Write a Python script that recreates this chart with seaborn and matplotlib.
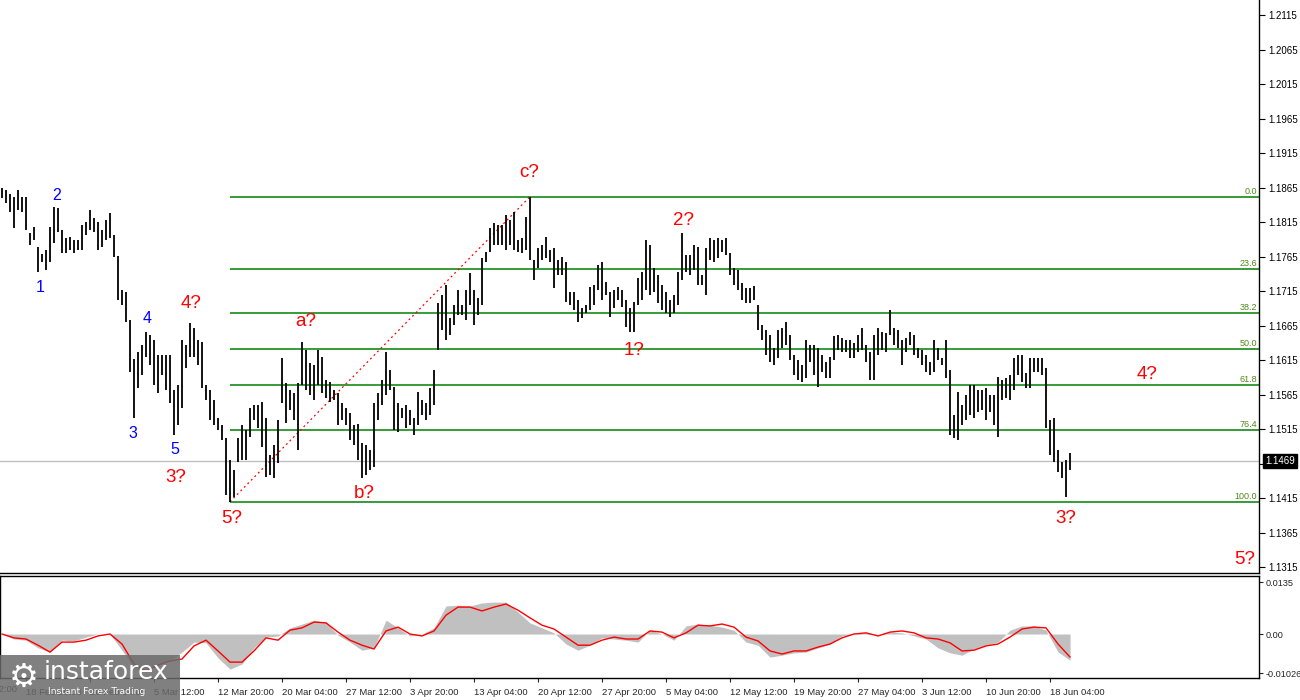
import numpy as np
import matplotlib
matplotlib.use('Agg')
import matplotlib.pyplot as plt
import seaborn as sns
from matplotlib.patches import Rectangle

sns.set_style('white')
plt.rcParams['font.family'] = ['Liberation Sans', 'DejaVu Sans']

# EURUSD H4 bars (one bar per ~2 source bars)
highs = [
    1.1865, 1.1862, 1.1856, 1.1852, 1.1862, 1.1852, 1.1852, 1.1799, 1.1808, 1.1779,
    1.1769, 1.1775, 1.1808, 1.1837, 1.1836, 1.1804, 1.1792, 1.1793, 1.1789, 1.1789,
    1.1811, 1.1815, 1.1833, 1.1821, 1.1815, 1.1804, 1.1818, 1.1828, 1.1796, 1.1766,
    1.1717, 1.1714, 1.1673, 1.1617, 1.1627, 1.1637, 1.1656, 1.1652, 1.1644, 1.1623,
    1.1623, 1.1623, 1.1623, 1.1572, 1.1579, 1.1644, 1.1637, 1.1669, 1.1662, 1.1644,
    1.1641, 1.1579, 1.1572, 1.1557, 1.1531, 1.1521, 1.1502, 1.1470, 1.1456, 1.1502,
    1.1521, 1.1514, 1.1546, 1.1550, 1.1550, 1.1554, 1.1531, 1.1478, 1.1492, 1.1528,
    1.1618, 1.1582, 1.1572, 1.1568, 1.1582, 1.1641, 1.1630, 1.1611, 1.1608, 1.1630,
    1.1620, 1.1586, 1.1583, 1.1572, 1.1568, 1.1553, 1.1546, 1.1538, 1.1521, 1.1523,
    1.1495, 1.1492, 1.1485, 1.1553, 1.1568, 1.1586, 1.1627, 1.1601, 1.1576, 1.1553,
    1.1546, 1.1550, 1.1543, 1.1531, 1.1569, 1.1557, 1.1553, 1.1575, 1.1601, 1.1698,
    1.1710, 1.1724, 1.1676, 1.1695, 1.1717, 1.1695, 1.1717, 1.1741, 1.1717, 1.1705,
    1.1763, 1.1772, 1.1807, 1.1814, 1.1811, 1.1811, 1.1825, 1.1818, 1.1830, 1.1789,
    1.1792, 1.1823, 1.1852, 1.1760, 1.1778, 1.1782, 1.1793, 1.1775, 1.1778, 1.1760,
    1.1765, 1.1757, 1.1714, 1.1714, 1.1702, 1.1691, 1.1695, 1.1721, 1.1724, 1.1753,
    1.1757, 1.1728, 1.1714, 1.1717, 1.1721, 1.1717, 1.1702, 1.1691, 1.1699, 1.1734,
    1.1743, 1.1789, 1.1782, 1.1749, 1.1739, 1.1724, 1.1714, 1.1702, 1.1710, 1.1743,
    1.1799, 1.1768, 1.1768, 1.1782, 1.1779, 1.1739, 1.1778, 1.1792, 1.1789, 1.1792,
    1.1789, 1.1792, 1.1770, 1.1749, 1.1746, 1.1727, 1.1720, 1.1720, 1.1723, 1.1695,
    1.1666, 1.1659, 1.1652, 1.1633, 1.1659, 1.1662, 1.1670, 1.1652, 1.1623, 1.1615,
    1.1608, 1.1644, 1.1637, 1.1637, 1.1633, 1.1623, 1.1612, 1.1620, 1.1650, 1.1652,
    1.1647, 1.1644, 1.1644, 1.1640, 1.1652, 1.1662, 1.1637, 1.1627, 1.1652, 1.1662,
    1.1656, 1.1655, 1.1688, 1.1662, 1.1659, 1.1644, 1.1647, 1.1656, 1.1652, 1.1633,
    1.1630, 1.1623, 1.1612, 1.1644, 1.1633, 1.1618, 1.1644, 1.1601, 1.1536, 1.1569,
    1.1550, 1.1565, 1.1579, 1.1579, 1.1572, 1.1572, 1.1575, 1.1565, 1.1565, 1.1591,
    1.1586, 1.1589, 1.1594, 1.1618, 1.1623, 1.1623, 1.1597, 1.1618, 1.1618, 1.1618,
    1.1618, 1.1604, 1.1528, 1.1531, 1.1485, 1.1467, 1.1470, 1.1481,
]
lows = [
    1.1850, 1.1843, 1.1830, 1.1807, 1.1833, 1.1830, 1.1804, 1.1782, 1.1789, 1.1743,
    1.1757, 1.1746, 1.1757, 1.1785, 1.1801, 1.1770, 1.1770, 1.1775, 1.1770, 1.1775,
    1.1775, 1.1796, 1.1804, 1.1801, 1.1775, 1.1779, 1.1789, 1.1792, 1.1765, 1.1702,
    1.1695, 1.1670, 1.1598, 1.1531, 1.1575, 1.1594, 1.1620, 1.1608, 1.1579, 1.1568,
    1.1594, 1.1572, 1.1553, 1.1507, 1.1521, 1.1546, 1.1604, 1.1620, 1.1620, 1.1608,
    1.1575, 1.1557, 1.1528, 1.1521, 1.1514, 1.1499, 1.1420, 1.1410, 1.1417, 1.1467,
    1.1470, 1.1470, 1.1504, 1.1528, 1.1517, 1.1489, 1.1446, 1.1449, 1.1444, 1.1466,
    1.1553, 1.1524, 1.1543, 1.1528, 1.1485, 1.1579, 1.1572, 1.1565, 1.1557, 1.1579,
    1.1568, 1.1560, 1.1554, 1.1557, 1.1521, 1.1528, 1.1521, 1.1499, 1.1492, 1.1470,
    1.1444, 1.1449, 1.1456, 1.1460, 1.1528, 1.1550, 1.1565, 1.1572, 1.1514, 1.1511,
    1.1531, 1.1517, 1.1521, 1.1507, 1.1521, 1.1536, 1.1528, 1.1536, 1.1550, 1.1630,
    1.1659, 1.1644, 1.1652, 1.1666, 1.1681, 1.1681, 1.1673, 1.1695, 1.1666, 1.1681,
    1.1695, 1.1757, 1.1772, 1.1782, 1.1782, 1.1782, 1.1775, 1.1782, 1.1775, 1.1772,
    1.1770, 1.1775, 1.1760, 1.1731, 1.1749, 1.1760, 1.1763, 1.1757, 1.1720, 1.1739,
    1.1739, 1.1699, 1.1695, 1.1688, 1.1670, 1.1676, 1.1683, 1.1688, 1.1695, 1.1717,
    1.1702, 1.1710, 1.1678, 1.1691, 1.1702, 1.1692, 1.1663, 1.1656, 1.1656, 1.1695,
    1.1702, 1.1717, 1.1710, 1.1714, 1.1698, 1.1688, 1.1683, 1.1678, 1.1683, 1.1695,
    1.1731, 1.1743, 1.1739, 1.1746, 1.1724, 1.1724, 1.1710, 1.1760, 1.1757, 1.1763,
    1.1772, 1.1768, 1.1739, 1.1724, 1.1717, 1.1702, 1.1698, 1.1698, 1.1702, 1.1659,
    1.1644, 1.1623, 1.1612, 1.1608, 1.1618, 1.1633, 1.1637, 1.1615, 1.1594, 1.1586,
    1.1583, 1.1589, 1.1612, 1.1594, 1.1576, 1.1598, 1.1589, 1.1589, 1.1615, 1.1630,
    1.1627, 1.1627, 1.1618, 1.1618, 1.1627, 1.1630, 1.1612, 1.1586, 1.1586, 1.1623,
    1.1630, 1.1627, 1.1652, 1.1637, 1.1633, 1.1608, 1.1627, 1.1637, 1.1623, 1.1618,
    1.1608, 1.1598, 1.1594, 1.1598, 1.1615, 1.1608, 1.1589, 1.1507, 1.1502, 1.1499,
    1.1521, 1.1528, 1.1536, 1.1531, 1.1540, 1.1543, 1.1528, 1.1540, 1.1521, 1.1504,
    1.1557, 1.1560, 1.1557, 1.1572, 1.1594, 1.1583, 1.1575, 1.1575, 1.1598, 1.1598,
    1.1594, 1.1517, 1.1478, 1.1467, 1.1453, 1.1444, 1.1417, 1.1456,
]
last_close = 1.1469

# oscillator, one sample every 3 bars
osc_step = 3
osc_hist = [
    0.0, -0.0013, -0.0016, -0.0036, -0.0047, -0.0016, -0.0018, -0.0008, 0.0, 0.0,
    -0.0042, -0.0088, -0.0099, -0.0078, -0.0068, -0.0047, -0.0021, -0.0023, -0.0062, -0.0091,
    -0.0078, -0.0036, -0.0008, -0.0005, 0.0016, 0.0026, 0.0036, 0.0031, -0.0003, -0.0021,
    -0.0042, -0.0036, 0.0036, 0.0016, -0.0005, 0.0, 0.0016, 0.0073, 0.0075, 0.0073,
    0.0081, 0.0083, 0.0083, 0.0057, 0.0029, 0.0016, 0.0003, -0.0026, -0.0042, -0.0029,
    -0.0010, -0.0013, -0.0016, -0.0021, 0.0010, 0.0, -0.0016, 0.0021, 0.0026, 0.0023,
    0.0018, 0.0010, -0.0021, -0.0029, -0.0060, -0.0055, -0.0049, -0.0047, -0.0036, -0.0026,
    -0.0005, 0.0, 0.0003, 0.0, 0.0005, 0.0003, -0.0005, -0.0013, -0.0036, -0.0049,
    -0.0055, -0.0039, -0.0029, -0.0021, 0.0010, 0.0021, 0.0021, 0.0010, -0.0047, -0.0068,
]
osc_signal = [
    0.0, -0.0010, -0.0013, -0.0029, -0.0047, -0.0021, -0.0021, -0.0016, -0.0005, 0.0,
    -0.0026, -0.0078, -0.0096, -0.0081, -0.0070, -0.0065, -0.0031, -0.0016, -0.0044, -0.0073,
    -0.0073, -0.0044, -0.0010, -0.0016, 0.0010, 0.0016, 0.0031, 0.0029, 0.0005, -0.0016,
    -0.0029, -0.0039, 0.0008, 0.0018, 0.0, -0.0005, 0.0008, 0.0049, 0.0070, 0.0070,
    0.0060, 0.0070, 0.0078, 0.0062, 0.0042, 0.0023, 0.0013, -0.0008, -0.0029, -0.0029,
    -0.0016, -0.0008, -0.0013, -0.0013, 0.0008, 0.0005, -0.0010, 0.0003, 0.0023, 0.0021,
    0.0026, 0.0018, -0.0008, -0.0018, -0.0044, -0.0052, -0.0044, -0.0044, -0.0034, -0.0026,
    -0.0010, 0.0, 0.0003, -0.0005, 0.0005, 0.0008, 0.0003, -0.0010, -0.0013, -0.0023,
    -0.0044, -0.0042, -0.0031, -0.0026, -0.0008, 0.0013, 0.0018, 0.0016, -0.0026, -0.0060,
]

date_labels = [
    '11 Feb 12:00', '18 Feb 20:00', '26 Feb 04:00', '5 Mar 12:00', '12 Mar 20:00',
    '20 Mar 04:00', '27 Mar 12:00', '3 Apr 20:00', '13 Apr 04:00', '20 Apr 12:00',
    '27 Apr 20:00', '5 May 04:00', '12 May 12:00', '19 May 20:00', '27 May 04:00',
    '3 Jun 12:00', '10 Jun 20:00', '18 Jun 04:00',
]
date_first_bar = -10
date_every = 16

price_ticks = [1.1315, 1.1365, 1.1415, 1.1465, 1.1515, 1.1565, 1.1615, 1.1665, 1.1715,
               1.1765, 1.1815, 1.1865, 1.1915, 1.1965, 1.2015, 1.2065, 1.2115]
osc_ticks = [0.0135, 0.0, -0.01026]
osc_tick_labels = ['0.0135', '0.00', '-0.01026']

fib_levels = [0.0, 23.6, 38.2, 50.0, 61.8, 76.4, 100.0]
fib_low_bar, fib_high_bar = 57, 132

# wave marks: text, bar, anchor ('high'/'low'), dx, dy (pixels), colour
wave_marks = [
    ('1', 9, 'low', 2, -16, 'blue'), ('2', 13, 'high', 3, 12, 'blue'),
    ('3', 33, 'low', -1, -15, 'blue'), ('4', 36, 'high', 1, 13, 'blue'),
    ('5', 43, 'low', 1, -15, 'blue'),
    ('4?', 47, 'high', 1, 20, 'red'), ('3?', 43, 'low', 2, -43, 'red'),
    ('5?', 57, 'low', 2, -17, 'red'), ('a?', 75, 'high', 4, 21, 'red'),
    ('b?', 90, 'low', 2, -15, 'red'), ('c?', 132, 'high', -1, 24, 'red'),
    ('1?', 158, 'low', 0, -19, 'red'), ('2?', 170, 'high', 1, 13, 'red'),
    ('3?', 266, 'low', 0, -22, 'red'),
]

n = len(highs)
idx = np.arange(n)
xmax = 314.25

fig = plt.figure(figsize=(13, 7), dpi=100)
ax = fig.add_axes([0, 0.1821, 0.9685, 0.8179])
osc = fig.add_axes([0, 0.0314, 0.9685, 0.1457])

# ---- price panel
ax.axhline(last_close, color='#c0c0c0', lw=1, zorder=1)
fib_hi, fib_lo = highs[fib_high_bar], lows[fib_low_bar]
for lvl in fib_levels:
    y = fib_hi - (fib_hi - fib_lo) * lvl / 100
    ax.hlines(y, fib_low_bar, xmax, color='#008000', lw=1.1, zorder=2)
    ax.annotate(f'{lvl:.1f}', xy=(1, y), xycoords=('axes fraction', 'data'),
                xytext=(-2, 1), textcoords='offset pixels', ha='right', va='bottom',
                fontsize=6.5, color='#4f8a1a')
ax.plot([fib_low_bar, fib_high_bar], [fib_lo, fib_hi], color='red', lw=0.9,
        ls=(0, (1.5, 2.5)), zorder=3)
ax.vlines(idx, lows, highs, color='black', lw=1.3, zorder=4)

for txt, b, side, dx, dy, col in wave_marks:
    yv = highs[b] if side == 'high' else lows[b]
    ax.annotate(txt, xy=(b, yv), xytext=(dx, dy), textcoords='offset pixels',
                ha='center', va='center', color=col,
                fontsize=11.5 if col == 'blue' else 13.5)
ax.annotate('4?', xy=(n - 1, highs[-1]), xytext=(77, 78), textcoords='offset pixels',
            ha='center', va='center', color='red', fontsize=13.5)
ax.annotate('5?', xy=(1, fib_lo), xycoords=('axes fraction', 'data'), xytext=(-14, -58),
            textcoords='offset pixels', ha='center', va='center', color='red', fontsize=13.5)

ax.set_xlim(-0.5, xmax)
ax.set_ylim(1.13075, 1.2137)
ax.set_xticks([])
ax.yaxis.tick_right()
ax.set_yticks(price_ticks)
# the tick under the current-price box is hidden by it
ax.set_yticklabels(['' if abs(t - last_close) < 0.001 else f'{t:.4f}' for t in price_ticks])
ax.tick_params(axis='y', direction='out', length=4, width=0.8, labelsize=7, pad=3,
               right=True, colors='black')
for side in ['top', 'left']:
    ax.spines[side].set_visible(False)
for side in ['right', 'bottom']:
    ax.spines[side].set_color('black')
    ax.spines[side].set_linewidth(1)
ax.annotate(f'{last_close:.4f}', xy=(1, last_close), xycoords=('axes fraction', 'data'),
            xytext=(6, 0), textcoords='offset pixels', ha='left', va='center',
            fontsize=7, color='white',
            bbox=dict(boxstyle='square,pad=0.2', fc='black', ec='black'))

# ---- oscillator panel
osc_x = np.arange(len(osc_hist)) * osc_step
osc.fill_between(osc_x, 0, osc_hist, color='#c0c0c0', lw=0)
sns.lineplot(x=osc_x, y=osc_signal, ax=osc, color='red', lw=1)
osc.set_xlim(-0.5, xmax)
osc.set_ylim(-0.01144, 0.01508)
osc.yaxis.tick_right()
osc.set_yticks(osc_ticks)
osc.set_yticklabels(osc_tick_labels)
tick_bars = [date_first_bar + date_every * k for k in range(len(date_labels))]
osc.set_xticks(tick_bars[1:])
osc.set_xticklabels(date_labels[1:], ha='left')
osc.text(tick_bars[0], -0.0143, date_labels[0], ha='left', va='center', fontsize=6.8,
         clip_on=False)
osc.tick_params(axis='y', direction='out', length=3, width=0.8, labelsize=6.6, pad=2,
                right=True)
osc.tick_params(axis='x', direction='out', length=3, width=0.8, labelsize=6.8, pad=4,
                bottom=True)
for side in osc.spines.values():
    side.set_color('black')
    side.set_linewidth(1)

# ---- watermark
fig.patches.append(Rectangle((0, 0), 180 / 1300, 45 / 700, transform=fig.transFigure,
                             fc='#6a6a6a', ec='none', alpha=0.85, zorder=5))
fig.text(24 / 1300, 1 - 677 / 700, '\u2699', color='white', fontsize=24,
         family='DejaVu Sans', ha='center', va='center', zorder=6)
fig.text(44 / 1300, 1 - 672 / 700, 'instaforex', color='white', fontsize=18,
         family='DejaVu Sans', ha='left', va='center', zorder=6)
fig.text(48 / 1300, 1 - 691 / 700, 'Instant Forex Trading', color='white', fontsize=6.7,
         family='DejaVu Sans', ha='left', va='center', zorder=6)

fig.savefig('out.png', dpi=100)
